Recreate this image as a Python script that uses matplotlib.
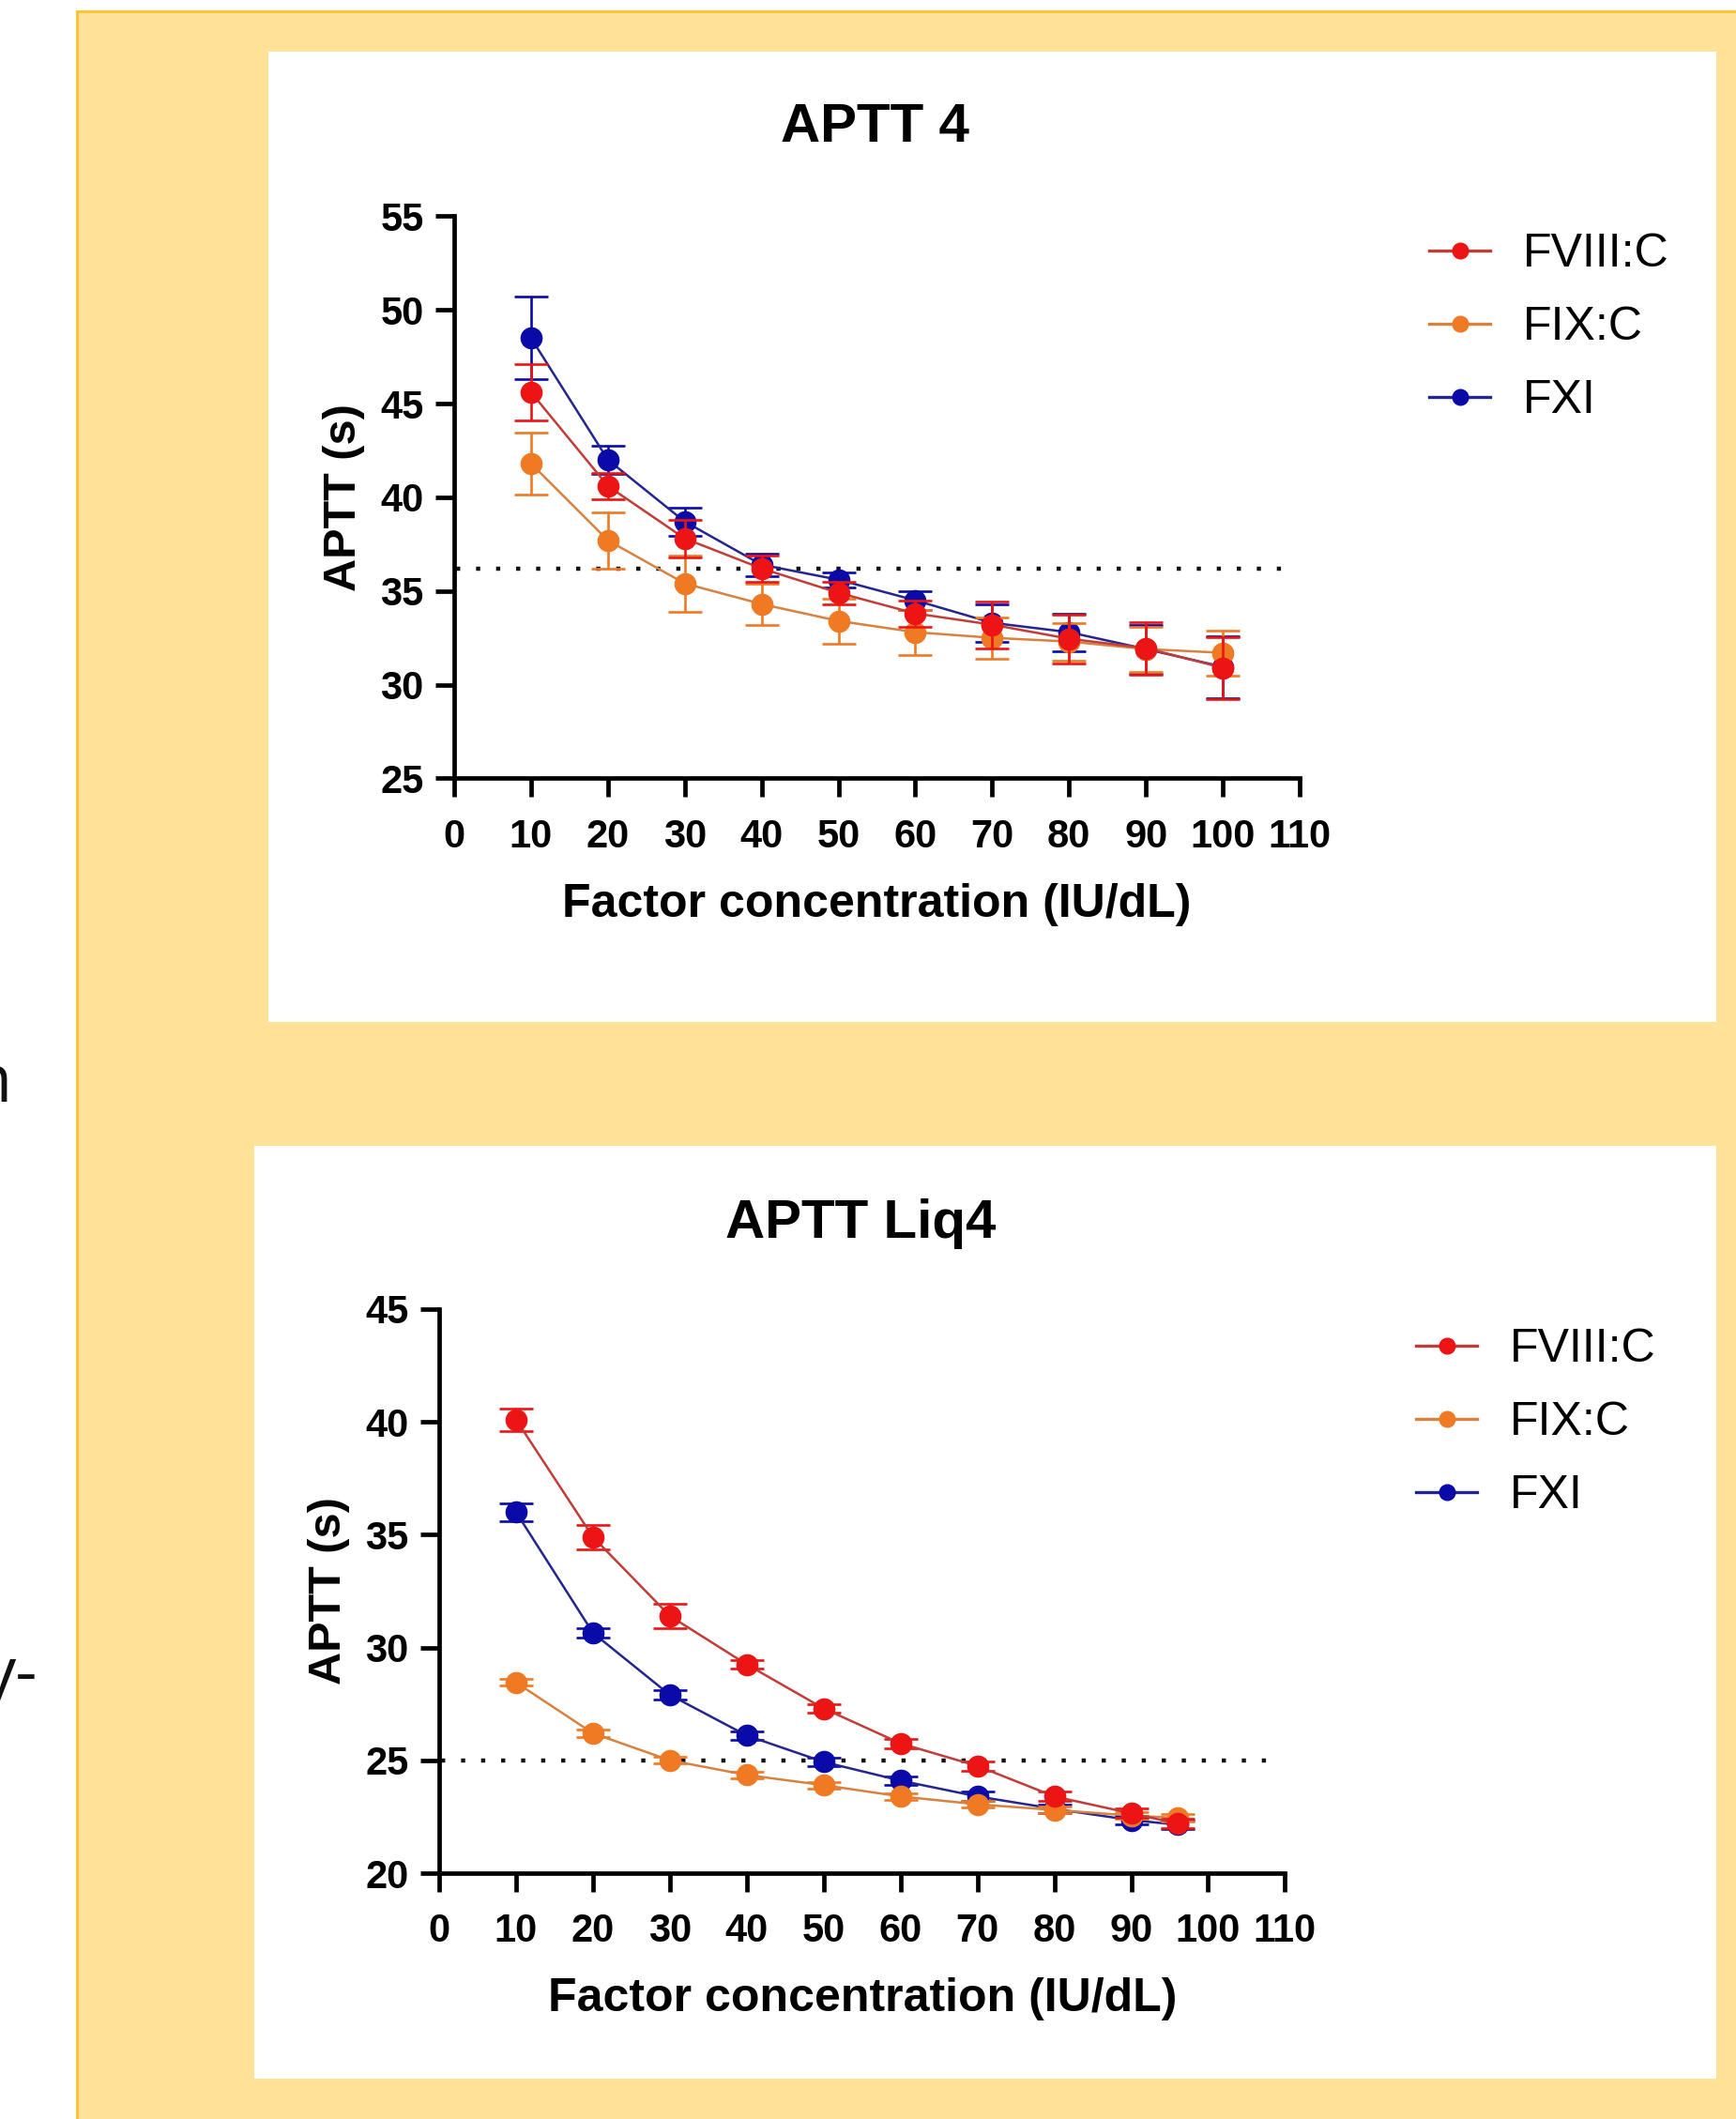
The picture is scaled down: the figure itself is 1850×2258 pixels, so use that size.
"""Two APTT sensitivity panels (APTT 4 / APTT Liq4) on a yellow slide background."""
import matplotlib.pyplot as plt
import matplotlib.patches as mpatches
from matplotlib.lines import Line2D

W, H, DPI = 1850, 2258, 100

SERIES = ["FVIII:C", "FIX:C", "FXI"]
MARKER_COLORS = {"FVIII:C": "#ec1414", "FIX:C": "#f07a24", "FXI": "#0a0aa8"}
LINE_COLORS = {"FVIII:C": "#c23c38", "FIX:C": "#d9823f", "FXI": "#252590"}

# ---- APTT 4
conc_a = [10, 20, 30, 40, 50, 60, 70, 80, 90, 100]
fviii_a = [45.6, 40.6, 37.8, 36.2, 34.9, 33.8, 33.2, 32.45, 31.95, 30.9]
fviii_a_sd = [1.5, 0.7, 1.0, 0.7, 0.6, 0.7, 1.25, 1.3, 1.4, 1.65]
fix_a = [41.8, 37.7, 35.4, 34.3, 33.4, 32.8, 32.5, 32.3, 31.9, 31.7]
fix_a_sd = [1.65, 1.5, 1.5, 1.1, 1.2, 1.2, 1.1, 1.0, 1.2, 1.2]
fxi_a = [48.5, 42.0, 38.7, 36.4, 35.6, 34.5, 33.3, 32.8, 31.9, 30.95]
fxi_a_sd = [2.2, 0.75, 0.75, 0.6, 0.4, 0.5, 1.0, 1.0, 1.3, 1.65]
cutoff_a = 36.2

# ---- APTT Liq4
conc_b = [10, 20, 30, 40, 50, 60, 70, 80, 90, 96]
fviii_b = [40.1, 34.9, 31.4, 29.25, 27.3, 25.75, 24.75, 23.4, 22.65, 22.2]
fviii_b_sd = [0.5, 0.55, 0.55, 0.2, 0.2, 0.2, 0.2, 0.2, 0.2, 0.2]
fix_b = [28.45, 26.2, 25.0, 24.35, 23.9, 23.4, 23.05, 22.8, 22.55, 22.45]
fix_b_sd = [0.15, 0.15, 0.15, 0.15, 0.15, 0.15, 0.15, 0.15, 0.15, 0.15]
fxi_b = [36.0, 30.65, 27.9, 26.1, 24.93, 24.1, 23.4, 22.85, 22.35, 22.15]
fxi_b_sd = [0.4, 0.2, 0.2, 0.2, 0.2, 0.2, 0.2, 0.2, 0.2, 0.2]
cutoff_b = 25.0

X_TICKS = list(range(0, 111, 10))

plt.rcParams["font.family"] = ["Liberation Sans", "DejaVu Sans"]


def fx(px):
    return px / W


def fy(py):
    return 1 - py / H


def draw_panel(fig, rect, title, title_xy, legend_xy, conc, vals, sds,
               ylim, yticks, cutoff):
    ax = fig.add_axes(rect)
    ax.set_facecolor("none")
    # FVIII:C sits on top, FXI underneath (as in the Prism export)
    for i, (name, v, sd) in enumerate(zip(SERIES, vals, sds)):
        ax.errorbar(conc, v, yerr=sd, color=LINE_COLORS[name], lw=1.8,
                    ecolor=MARKER_COLORS[name], elinewidth=1.9, capsize=13,
                    capthick=1.9, marker="o", ms=16,
                    mfc=MARKER_COLORS[name], mec=MARKER_COLORS[name],
                    zorder=5 - i, clip_on=False)
    ax.plot([0.3, 108.8], [cutoff, cutoff], color="#111", lw=3.2,
            ls=(0, (1, 3.8)), zorder=2)

    ax.set_xlim(0, 110)
    ax.set_ylim(*ylim)
    ax.set_xticks(X_TICKS)
    ax.set_yticks(yticks)
    for s in ("top", "right"):
        ax.spines[s].set_visible(False)
    for s in ("left", "bottom"):
        ax.spines[s].set_linewidth(3.4)
    ax.tick_params(axis="both", length=14.4, width=3.4, labelsize=30, direction="out")
    ax.tick_params(axis="x", pad=16)
    ax.tick_params(axis="y", pad=9)
    for lab in ax.get_xticklabels() + ax.get_yticklabels():
        lab.set_fontweight("bold")

    ax.set_xlabel("Factor concentration (IU/dL)", fontsize=36, fontweight="bold",
                  labelpad=21)
    ax.set_ylabel("APTT (s)", fontsize=35, fontweight="bold", labelpad=12)

    fig.text(title_xy[0], title_xy[1], title, fontsize=42, fontweight="bold",
             ha="center", va="baseline")

    handles = [Line2D([], [], color=LINE_COLORS[n], lw=2.4, marker="o", ms=12,
                      mfc=MARKER_COLORS[n], mec=MARKER_COLORS[n], label=n)
               for n in SERIES]
    ax.legend(handles=handles, loc="upper left", bbox_to_anchor=legend_xy,
              bbox_transform=fig.transFigure, frameon=False, fontsize=36,
              handlelength=1.3, handletextpad=0.7, labelspacing=0.64,
              borderpad=0, borderaxespad=0)
    return ax


fig = plt.figure(figsize=(W / DPI, H / DPI), dpi=DPI, facecolor="white")

# slide background (drawn below the axes)
fig.patches.append(mpatches.Rectangle((fx(82), fy(2300)), fx(1900), fy(12) - fy(2300),
                                      transform=fig.transFigure, facecolor="#ffe198",
                                      edgecolor="#ffc22b", lw=2, zorder=-3))
fig.patches.append(mpatches.Rectangle((fx(286), fy(1089)), fx(1829 - 286), fy(55) - fy(1089),
                                      transform=fig.transFigure, facecolor="white",
                                      edgecolor="none", zorder=-2))
fig.patches.append(mpatches.Rectangle((fx(271), fy(2215)), fx(1829 - 271), fy(1221) - fy(2215),
                                      transform=fig.transFigure, facecolor="white",
                                      edgecolor="none", zorder=-2))

# clipped text fragments at the left edge of the screenshot
fig.text(fx(13), fy(1174), "n", fontsize=52, ha="right", va="baseline",
         family="Open Sans", color="#111")
fig.text(fx(40), fy(1806), "y-", fontsize=52, ha="right", va="baseline",
         family="Open Sans", color="#111")

draw_panel(fig, [fx(484), fy(829.4), fx(1385 - 484), fy(230.4) - fy(829.4)],
           "APTT 4", (fx(933), fy(151)), (fx(1523), fy(248)),
           conc_a, [fviii_a, fix_a, fxi_a], [fviii_a_sd, fix_a_sd, fxi_a_sd],
           (25, 55), [25, 30, 35, 40, 45, 50, 55], cutoff_a)

draw_panel(fig, [fx(468), fy(1996), fx(1369.4 - 468), fy(1395) - fy(1996)],
           "APTT Liq4", (fx(917), fy(1319)), (fx(1509), fy(1415)),
           conc_b, [fviii_b, fix_b, fxi_b], [fviii_b_sd, fix_b_sd, fxi_b_sd],
           (20, 45), [20, 25, 30, 35, 40, 45], cutoff_b)

fig.savefig("out.png", dpi=DPI, facecolor="white")
